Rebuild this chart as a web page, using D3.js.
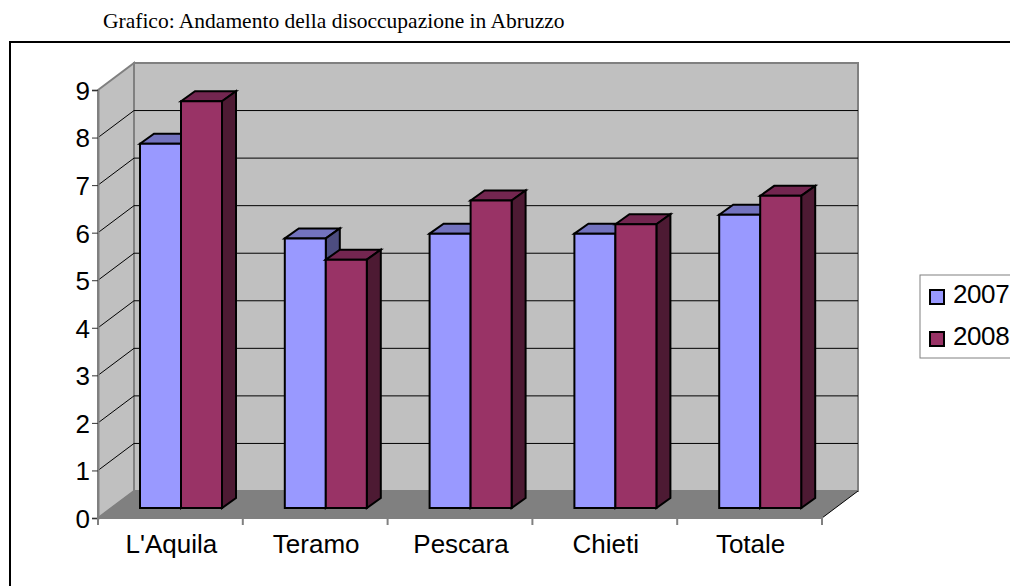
<!DOCTYPE html>
<html>
<head>
<meta charset="utf-8">
<script src="https://cdn.jsdelivr.net/npm/d3@7"></script>
<style>
body { margin:0; background:#fff; overflow:hidden; }
svg { display:block; }
</style>
</head>
<body>
<div id="chart"></div>
<script>
var categories = ["L'Aquila", 'Teramo', 'Pescara', 'Chieti', 'Totale'];
var years = ['2007', '2008'];
var values2007 = [7.7, 5.7, 5.8, 5.8, 6.2];
var values2008 = [8.6, 5.25, 6.5, 6.0, 6.6];
var yTicks = [0, 1, 2, 3, 4, 5, 6, 7, 8, 9];
var chartTitle = 'Grafico: Andamento della disoccupazione in Abruzzo';

var colors = {
	'2007': {front:'#9999ff', top:'#7373bf', side:'#4d4d80'},
	'2008': {front:'#993366', top:'#732650', side:'#4d1a33'}
};

var svg = d3.select('#chart').append('svg').attr('width', 1010).attr('height', 586);

// depth of the fake 3d box
var dx = 36, dy = -27;
var barDx = 14, barDy = -10;

var x = d3.scaleBand().domain(categories).range([98, 822]);
var y = d3.scaleLinear().domain([0, 9]).range([518, 90]);
var yBar = d3.scaleLinear().domain([0, 9]).range([508, 82.3]);

var sansFont = '"Liberation Sans", Arial, sans-serif';

function poly(pts, fill, stroke, sw) {
	return svg.append('polygon')
		.attr('points', pts.map(function(p){ return p.join(','); }).join(' '))
		.attr('fill', fill)
		.attr('stroke', stroke || 'none')
		.attr('stroke-width', sw || 0)
		.attr('stroke-linejoin', 'miter');
}

svg.append('text')
	.attr('x', 103).attr('y', 28)
	.attr('font-family', '"Liberation Serif", "Times New Roman", serif')
	.attr('font-size', 21.5)
	.attr('fill', '#000')
	.text(chartTitle);

// outer frame, cut by the page on right and bottom
svg.append('path')
	.attr('d', 'M1010,42H10V586')
	.attr('fill', 'none').attr('stroke', '#000').attr('stroke-width', 2);

var x0 = x.range()[0], x1 = x.range()[1];
var yTop = y(9), yBot = y(0);

// walls
poly([[x0+dx, yTop+dy], [x1+dx, yTop+dy], [x1+dx, yBot+dy], [x0+dx, yBot+dy]], '#c0c0c0', '#808080', 2);
poly([[x0, yTop], [x0+dx, yTop+dy], [x0+dx, yBot+dy], [x0, yBot]], '#c0c0c0', '#808080', 2);
poly([[x0, yBot], [x0+dx, yBot+dy], [x1+dx, yBot+dy], [x1, yBot]], '#808080');

// gridlines on the walls
var grid = svg.append('g');
yTicks.slice(1, -1).forEach(function(t){
	grid.append('path')
		.attr('d', d3.line()([[x0, y(t)], [x0+dx, y(t)+dy], [x1+dx, y(t)+dy]]))
		.attr('fill', 'none').attr('stroke', '#000').attr('stroke-width', 1);
});
svg.append('line')
	.attr('x1', x1).attr('y1', yBot).attr('x2', x1+dx).attr('y2', yBot+dy)
	.attr('stroke', '#000').attr('stroke-width', 1);

// bars
function drawBar(left, w, val, c) {
	var t = yBar(val), b = yBar(0);
	poly([[left, t], [left+barDx, t+barDy], [left+w+barDx, t+barDy], [left+w, t]], c.top, '#000', 2);
	poly([[left+w, t], [left+w+barDx, t+barDy], [left+w+barDx, b+barDy], [left+w, b]], c.side, '#000', 2);
	poly([[left, t], [left+w, t], [left+w, b], [left, b]], c.front, '#000', 2);
}

var barW = 41, barOffset = 42;
categories.forEach(function(cat, i){
	var left = x(cat) + barOffset;
	drawBar(left, barW, values2007[i], colors['2007']);
	drawBar(left + barW, barW, values2008[i], colors['2008']);
});

// axes
var yAxis = svg.append('g')
	.attr('transform', 'translate(' + x0 + ',0)')
	.call(d3.axisLeft(y).tickValues(yTicks).tickSize(6).tickPadding(2).tickFormat(d3.format('d')));
var xAxis = svg.append('g')
	.attr('transform', 'translate(1,' + yBot + ')')
	.call(d3.axisBottom(x).tickSize(0).tickPadding(17));

yAxis.selectAll('line').attr('stroke', '#333').attr('stroke-width', 1);
yAxis.select('.domain').attr('stroke', '#808080').attr('stroke-width', 2);
yAxis.selectAll('text').attr('dy', '0.36em');
xAxis.select('.domain').attr('stroke', '#808080').attr('stroke-width', 2).attr('d', 'M' + (x0-1) + ',7V0H' + (x1-1) + 'V7');

categories.slice(1).forEach(function(cat){
	xAxis.append('line')
		.attr('x1', x(cat)-1).attr('x2', x(cat)-1).attr('y1', 0).attr('y2', 7)
		.attr('stroke', '#808080').attr('stroke-width', 2);
});

svg.selectAll('.tick text')
	.attr('font-family', sansFont)
	.attr('font-size', 26)
	.attr('fill', '#000');

// legend
svg.append('rect')
	.attr('x', 920).attr('y', 275).attr('width', 100).attr('height', 83)
	.attr('fill', '#fff').attr('stroke', '#808080').attr('stroke-width', 1);

var legend = svg.append('g').selectAll('g').data(years).enter().append('g')
	.attr('transform', function(d, i){ return 'translate(0,' + (297 + i*42) + ')'; });
legend.append('rect')
	.attr('x', 930).attr('y', -7).attr('width', 14).attr('height', 14)
	.attr('fill', function(d){ return colors[d].front; })
	.attr('stroke', '#000').attr('stroke-width', 2);
legend.append('text')
	.attr('x', 953).attr('y', 6)
	.attr('font-family', sansFont)
	.attr('font-size', 26)
	.attr('letter-spacing', -0.4)
	.attr('fill', '#000')
	.text(function(d){ return d; });
</script>
</body>
</html>
